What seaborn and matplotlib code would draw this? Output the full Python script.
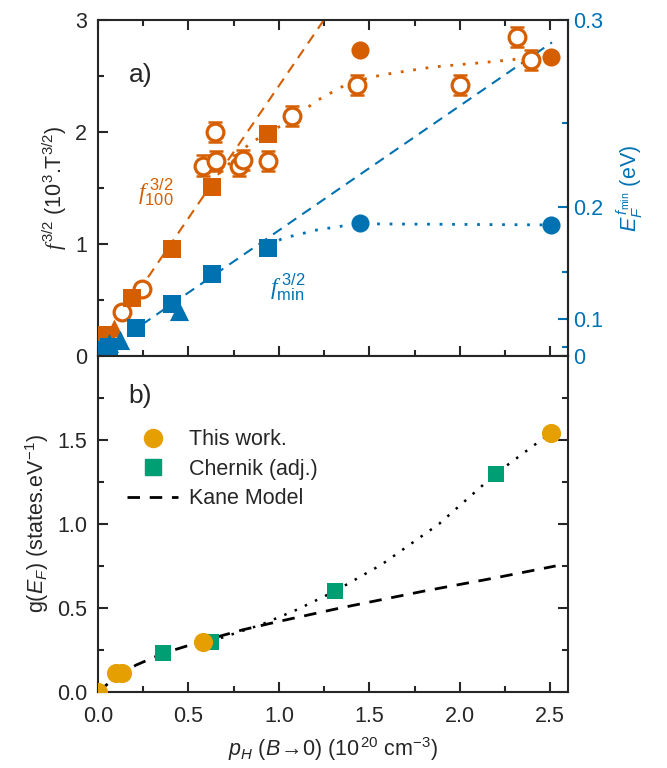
import numpy as np
import pandas as pd
import matplotlib
matplotlib.use("Agg")
import matplotlib.pyplot as plt
from matplotlib.lines import Line2D
from matplotlib.ticker import MultipleLocator, FixedLocator
import seaborn as sns

# ---- panel a) f^{3/2} vs p_H ----
sq100_x = [0.02, 0.045, 0.19, 0.41, 0.63, 0.94]
sq100_y = [0.12, 0.19, 0.52, 0.955, 1.51, 1.98]
tri100_x = [0.09]
tri100_y = [0.25]
open100_x = [0.13, 0.245, 0.58, 0.645, 0.65, 0.78, 0.80, 0.94, 1.07, 1.43, 2.0, 2.315, 2.395]
open100_y = [0.39, 0.60, 1.70, 2.0, 1.74, 1.70, 1.75, 1.74, 2.14, 2.42, 2.42, 2.85, 2.64]
open100_err = [0.04, 0.04, 0.09, 0.09, 0.09, 0.09, 0.09, 0.09, 0.09, 0.09, 0.09, 0.09, 0.09]
circ100_x = [1.45, 2.505]
circ100_y = [2.73, 2.67]

sqmin_x = [0.015, 0.06, 0.21, 0.41, 0.63, 0.94]
sqmin_y = [0.05, 0.08, 0.25, 0.46, 0.73, 0.96]
trimin_x = [0.06, 0.12, 0.45]
trimin_y = [0.12, 0.14, 0.40]
circmin_x = [1.45, 2.505]
circmin_y = [1.19, 1.17]

dash100_x = [0.0, 1.27]
dash100_y = [0.05, 3.05]
dashmin_x = [0.0, 2.51]
dashmin_y = [0.01, 2.80]
dot100_x = [0.62, 0.84, 1.06, 1.21, 1.39, 1.57, 1.85, 2.13, 2.5]
dot100_y = [1.55, 1.90, 2.10, 2.28, 2.44, 2.51, 2.58, 2.62, 2.68]
dotmin_x = [0.94, 1.02, 1.21, 1.39, 1.45, 2.5]
dotmin_y = [0.98, 1.05, 1.125, 1.17, 1.18, 1.17]

# ---- panel b) g(E_F) vs p_H ----
this_x = [0.0, 0.10, 0.135, 0.58, 2.505]
this_y = [0.0, 0.113, 0.113, 0.30, 1.54]
chern_x = [0.36, 0.625, 1.31, 2.2]
chern_y = [0.23, 0.30, 0.60, 1.30]
kane_x = [0.0, 0.1, 0.21, 0.36, 0.6, 0.8, 1.0, 1.34, 1.8, 2.2, 2.53]
kane_y = [0.0, 0.09, 0.16, 0.23, 0.31, 0.37, 0.42, 0.50, 0.60, 0.68, 0.75]
dotb_x = [0.62, 0.9, 1.1, 1.31, 1.57, 1.885, 2.2, 2.5]
dotb_y = [0.30, 0.40, 0.49, 0.60, 0.76, 1.0, 1.30, 1.54]

ORANGE = "#D55E00"
BLUE = "#0072B2"
YELLOW = "#E69F00"
GREEN = "#009E73"

sns.set_style("ticks")
plt.rcParams["font.family"] = ["Liberation Sans", "DejaVu Sans"]
plt.rcParams["mathtext.fontset"] = "custom"
plt.rcParams["mathtext.rm"] = "Liberation Sans"
plt.rcParams["mathtext.it"] = "Liberation Sans:italic"
plt.rcParams["mathtext.cal"] = "Liberation Serif:italic"
plt.rcParams["font.size"] = 15.5
plt.rcParams["axes.linewidth"] = 1.5

fig, (ax1, ax2) = plt.subplots(2, 1, figsize=(6.67, 7.68), dpi=100, sharex=True)
fig.subplots_adjust(left=0.147, right=0.852, top=0.974, bottom=0.099, hspace=0)

# --- panel a ---
sns.lineplot(x=dash100_x, y=dash100_y, ax=ax1, color=ORANGE, lw=1.5, linestyle=(0, (5, 3.5)), sort=False)
sns.lineplot(x=dashmin_x, y=dashmin_y, ax=ax1, color=BLUE, lw=1.5, linestyle=(0, (5, 3.5)), sort=False)
sns.lineplot(x=dot100_x, y=dot100_y, ax=ax1, color=ORANGE, lw=2, linestyle=(0, (1, 3.5)), sort=False)
sns.lineplot(x=dotmin_x, y=dotmin_y, ax=ax1, color=BLUE, lw=2, linestyle=(0, (1, 3.5)), sort=False)

ax1.errorbar(open100_x, open100_y, yerr=open100_err, fmt="none", ecolor=ORANGE,
             elinewidth=1.8, capsize=5, capthick=1.8, zorder=3)
sns.scatterplot(x=open100_x, y=open100_y, ax=ax1, marker="o", s=145, facecolor="white",
                edgecolor=ORANGE, linewidth=2.3, zorder=4)
sns.scatterplot(x=sq100_x, y=sq100_y, ax=ax1, marker="s", s=150, color=ORANGE, linewidth=0, zorder=5)
sns.scatterplot(x=tri100_x, y=tri100_y, ax=ax1, marker="^", s=170, color=ORANGE, linewidth=0, zorder=5)
sns.scatterplot(x=circ100_x, y=circ100_y, ax=ax1, marker="o", s=170, color=ORANGE, linewidth=0, zorder=5)
sns.scatterplot(x=sqmin_x, y=sqmin_y, ax=ax1, marker="s", s=150, color=BLUE, linewidth=0, zorder=5)
sns.scatterplot(x=trimin_x, y=trimin_y, ax=ax1, marker="^", s=190, color=BLUE, linewidth=0, zorder=5)
sns.scatterplot(x=circmin_x, y=circmin_y, ax=ax1, marker="o", s=170, color=BLUE, linewidth=0, zorder=5)

ax1.set_xlim(0, 2.6)
ax1.set_ylim(0, 3)
ax1.yaxis.set_major_locator(MultipleLocator(1))
ax1.yaxis.set_minor_locator(MultipleLocator(0.5))
ax1.set_ylabel(r"$\mathcal{f}^{\,3/2}$ (10$^3$.T$^{3/2}$)")
ax1.text(0.17, 2.45, "a)", fontsize=19)
ax1.text(0.22, 1.40, r"$\mathcal{f}_{100}^{\ 3/2}$", color=ORANGE, fontsize=17)
ax1.text(0.95, 0.55, r"$\mathcal{f}_{\rm min}^{\ 3/2}$", color=BLUE, fontsize=17)
ax1.tick_params(axis="both", which="both", direction="in", top=True, right=False, width=1.5)
ax1.tick_params(axis="y", pad=8)
ax1.tick_params(which="major", length=7)
ax1.tick_params(which="minor", length=4)

sec = ax1.secondary_yaxis(
    "right",
    functions=(lambda y: 0.3 * np.sqrt(np.clip(y, 0, None) / 3.0),
               lambda e: 3.0 * (np.asarray(e) / 0.3) ** 2))
sec.yaxis.set_major_locator(FixedLocator([0, 0.1, 0.2, 0.3]))
sec.yaxis.set_minor_locator(FixedLocator([0.05, 0.15, 0.25]))
sec.set_yticklabels(["0", "0.1", "0.2", "0.3"])
sec.tick_params(axis="y", which="both", direction="in", colors=BLUE, labelcolor=BLUE, width=1.5)
sec.tick_params(which="major", length=7)
sec.tick_params(which="minor", length=4)
for t in sec.yaxis.get_ticklines():
    t.set_color("black")
for t in sec.yaxis.get_minorticklines():
    t.set_color("black")
sec.set_ylabel(r"$E_F^{\,f_{\rm min}}$ (eV)", color=BLUE, labelpad=8)

# --- panel b ---
sns.lineplot(x=kane_x, y=kane_y, ax=ax2, color="black", lw=2, linestyle=(0, (4.5, 3.5)), sort=False)
sns.lineplot(x=dotb_x, y=dotb_y, ax=ax2, color="black", lw=1.8, linestyle=(0, (1, 3.5)), sort=False)
sns.scatterplot(x=chern_x, y=chern_y, ax=ax2, marker="s", s=130, color=GREEN, linewidth=0, zorder=4)
sns.scatterplot(x=this_x, y=this_y, ax=ax2, marker="o", s=190, color=YELLOW, linewidth=0, zorder=5)

ax2.set_xlim(0, 2.6)
ax2.set_ylim(0, 2.0)
ax2.set_yticks([0.0, 0.5, 1.0, 1.5])
ax2.yaxis.set_minor_locator(MultipleLocator(0.25))
ax2.xaxis.set_major_locator(MultipleLocator(0.5))
ax2.xaxis.set_minor_locator(MultipleLocator(0.25))
ax2.set_yticklabels(["0.0", "0.5", "1.0", "1.5"])
ax2.set_ylabel(r"g($E_F$) (states.eV$^{-1}$)")
ax2.set_xlabel(r"$p_H$ ($B\!\rightarrow\!$0) (10$^{\,20}$ cm$^{-3}$)", labelpad=6)
ax2.text(0.17, 1.72, "b)", fontsize=19)
ax2.tick_params(axis="both", which="both", direction="in", top=False, right=True, width=1.5)
ax2.tick_params(axis="x", pad=10)
ax2.tick_params(axis="y", pad=8)
ax2.tick_params(which="major", length=7)
ax2.tick_params(which="minor", length=4)

handles = [
    Line2D([], [], marker="o", color=YELLOW, linestyle="none", markersize=13),
    Line2D([], [], marker="s", color=GREEN, linestyle="none", markersize=11),
    Line2D([], [], color="black", lw=2, linestyle=(0, (4.5, 3.5))),
]
ax2.legend(handles, ["This work.", "Chernik (adj.)", "Kane Model"], loc="upper left",
           bbox_to_anchor=(0.02, 0.84), frameon=False, handlelength=2.4,
           handletextpad=0.5, labelspacing=0.4, fontsize=15.5)

fig.savefig("out.png", dpi=100)
